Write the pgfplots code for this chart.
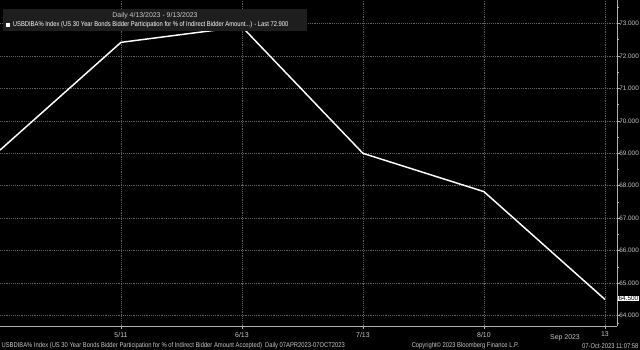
\documentclass[border=0pt]{standalone}
\usepackage{pgfplots}
\pgfplotsset{compat=1.18}
\usepackage{fontspec}
\setmainfont{Liberation Sans}
\definecolor{axisgray}{HTML}{B0B0B0}
\definecolor{gridgray}{HTML}{606060}
\definecolor{labelgray}{HTML}{C8C8C8}
\definecolor{legbg}{HTML}{1E1E1E}
\begin{document}
\begin{tikzpicture}
\useasboundingbox (0,0) rectangle (480pt,262.5pt);
\fill[black] (0,0) rectangle (480pt,262.5pt);
\begin{axis}[at={(0pt,18pt)}, anchor=south west, scale only axis,
 width=462.75pt, height=244.5pt,
 xmin=0, xmax=5.1, ymin=63.68, ymax=73.725,
 axis x line*=bottom, axis y line*=right,
 axis line style={draw=axisgray, line width=0.6pt, -},
 xtick={1,2,3,4,5}, xticklabels={5/11,6/13,7/13,8/10,13},
 ytick={64,65,66,67,68,69,70,71,72,73},
 yticklabels={64.000,65.000,66.000,67.000,68.000,69.000,70.000,71.000,72.000,73.000},
 minor ytick={63.75,64.5,65.5,66.5,67.5,68.5,69.5,70.5,71.5,72.5,73.5},
 grid=major, major grid style={densely dotted, gridgray, line width=0.5pt},
 tick style={axisgray, line width=0.5pt}, tick align=outside,
 major tick length=2pt, minor tick length=1.5pt,
 ticklabel style={font=\fontsize{5.2}{6}\selectfont, text=labelgray},
 yticklabel style={anchor=west, inner sep=0.3pt, xshift=-0.8pt, font=\fontsize{4.8}{6}\selectfont},
 xticklabel style={yshift=1pt},
 clip=false]
\addplot[white, line width=1.1pt] coordinates {(0,69.1) (1,72.42) (2,72.9) (3,69.0) (4,67.82) (5,64.5)};
\end{axis}
% legend
\fill[legbg] (2.25pt,239.25pt) rectangle (230.25pt,255.75pt);
\node[font=\fontsize{5.2}{6}\selectfont, text=labelgray] at (116.25pt,250.7pt) {Daily 4/13/2023 - 9/13/2023};
\fill[white] (4.5pt,242.5pt) rectangle (7.5pt,245.5pt);
\node[anchor=west, inner sep=0pt, font=\fontsize{5.2}{6}\selectfont, text=white] at (9.5pt,244.2pt) {\scalebox{0.84}[1]{USBDIBA\% Index (US 30 Year Bonds Bidder Participation for \% of Indirect Bidder Amount...) - Last 72.900}};
% last value tag
\node[anchor=west, fill=white, text=black, inner sep=0.4pt, font=\fontsize{4.8}{6}\selectfont] at (463.4pt,38.6pt) {64.500};
% bottom texts
\node[font=\fontsize{5.2}{6}\selectfont, text=labelgray] at (423.75pt,9pt) {Sep 2023};
\node[anchor=west, inner sep=0pt, font=\fontsize{5.2}{6}\selectfont, text=labelgray] at (1pt,3pt) {\scalebox{0.84}[1]{USBDIBA\% Index (US 30 Year Bonds Bidder Participation for \% of Indirect Bidder Amount Accepted)\ \ Daily 07APR2023-07OCT2023}};
\node[inner sep=0pt, font=\fontsize{5.2}{6}\selectfont, text=labelgray] at (349pt,3pt) {\scalebox{0.84}[1]{Copyright\textcopyright{} 2023 Bloomberg Finance L.P.}};
\node[anchor=east, inner sep=0pt, font=\fontsize{5.2}{6}\selectfont, text=labelgray] at (479pt,3pt) {\scalebox{0.84}[1]{07-Oct-2023 11:07:58}};
\end{tikzpicture}
\end{document}
